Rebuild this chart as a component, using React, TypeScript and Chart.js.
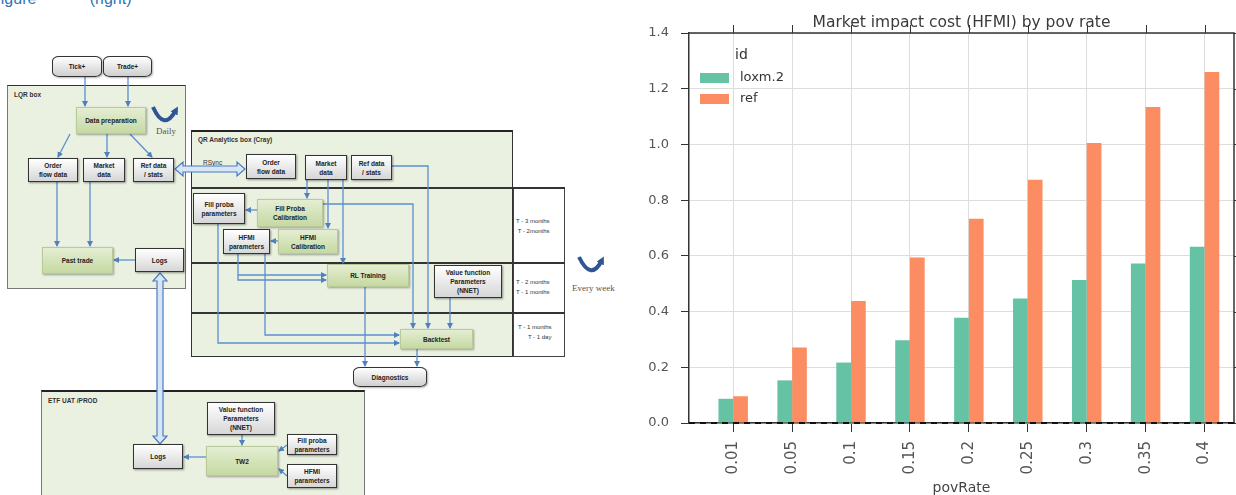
import React, { useEffect, useRef } from 'react';
import { Chart, registerables } from 'chart.js';

Chart.register(...registerables);

// ---------- chart data ----------
const categories = ['0.01', '0.05', '0.1', '0.15', '0.2', '0.25', '0.3', '0.35', '0.4'];
const loxmValues = [0.087, 0.153, 0.217, 0.297, 0.378, 0.447, 0.513, 0.573, 0.633];
const refValues = [0.096, 0.271, 0.438, 0.594, 0.733, 0.873, 1.005, 1.134, 1.26];
const yTickValues = [0, 0.2, 0.4, 0.6, 0.8, 1.0, 1.2, 1.4];
const seriesNames = ['loxm.2', 'ref'];
const seriesColors = ['#66c2a5', '#fc8d62'];
const chartTitle = 'Market impact cost (HFMI) by pov rate';
const xAxisTitle = 'povRate';
const legendTitle = 'id';

const FONT = "'DejaVu Sans', sans-serif";

function BarChart() {
  const ref = useRef<HTMLCanvasElement>(null);
  useEffect(() => {
    const canvas = ref.current;
    if (!canvas) return;
    const overlay = {
      id: 'overlay',
      afterDatasetsDraw(chart: any) {
        const { ctx, chartArea: a, scales } = chart;
        const xs = scales.x;
        const ys = scales.y;
        ctx.save();
        // dashed zero line
        const y0 = ys.getPixelForValue(0);
        ctx.strokeStyle = '#111';
        ctx.lineWidth = 2;
        ctx.setLineDash([6, 5]);
        ctx.beginPath();
        ctx.moveTo(a.left, y0);
        ctx.lineTo(a.right, y0);
        ctx.stroke();
        ctx.setLineDash([]);
        // frame top and right
        ctx.strokeStyle = '#333';
        ctx.lineWidth = 1.5;
        ctx.beginPath();
        ctx.moveTo(a.left, a.top);
        ctx.lineTo(a.right, a.top);
        ctx.lineTo(a.right, a.bottom);
        ctx.stroke();
        // title
        ctx.fillStyle = '#3a3a3a';
        ctx.font = `15.5px ${FONT}`;
        ctx.textAlign = 'center';
        ctx.textBaseline = 'alphabetic';
        ctx.fillText(chartTitle, (a.left + a.right) / 2, 27);
        // top / right ticks
        ctx.strokeStyle = '#333';
        ctx.lineWidth = 1;
        ctx.beginPath();
        categories.forEach((_, i) => {
          const px = Math.round(xs.getPixelForValue(i)) + 0.5;
          ctx.moveTo(px, a.top);
          ctx.lineTo(px, a.top - 8);
        });
        yTickValues.forEach((v) => {
          const py = Math.round(ys.getPixelForValue(v)) + 0.5;
          ctx.moveTo(a.right, py);
          ctx.lineTo(a.right + 8, py);
        });
        ctx.stroke();
        // legend
        ctx.textAlign = 'left';
        ctx.textBaseline = 'middle';
        ctx.fillStyle = '#333';
        ctx.font = `14px ${FONT}`;
        ctx.fillText(legendTitle, a.left + 46, 55);
        ctx.font = `13px ${FONT}`;
        seriesNames.forEach((name, i) => {
          const cy = 78 + i * 21;
          ctx.fillStyle = seriesColors[i];
          ctx.fillRect(a.left + 11, cy - 5, 29, 10);
          ctx.fillStyle = '#333';
          ctx.fillText(name, a.left + 51, cy);
        });
        // x axis title
        ctx.fillStyle = '#444';
        ctx.font = `14px ${FONT}`;
        ctx.textAlign = 'center';
        ctx.fillText(xAxisTitle, (a.left + a.right) / 2, 488);
        ctx.restore();
      },
    };

    const chart = new Chart(canvas, {
      type: 'bar',
      data: {
        datasets: [
          {
            label: seriesNames[0],
            data: loxmValues.map((v, i) => ({ x: i, y: v })),
            backgroundColor: seriesColors[0],
            borderWidth: 0,
            categoryPercentage: 0.5,
            barPercentage: 1.0,
          },
          {
            label: seriesNames[1],
            data: refValues.map((v, i) => ({ x: i, y: v })),
            backgroundColor: seriesColors[1],
            borderWidth: 0,
            categoryPercentage: 0.5,
            barPercentage: 1.0,
          },
        ],
      },
      options: {
        responsive: false,
        animation: false,
        layout: { padding: { top: 33, right: 2, left: 0, bottom: 0 } },
        plugins: {
          legend: { display: false },
          tooltip: { enabled: false },
          title: { display: false },
        },
        scales: {
          x: {
            type: 'linear',
            min: -0.75,
            max: 8.5,
            offset: false,
            afterBuildTicks: (scale: any) => {
              scale.ticks = categories.map((_, i) => ({ value: i }));
            },
            afterFit: (scale: any) => {
              scale.height = 72;
            },
            ticks: {
              autoSkip: false,
              minRotation: 90,
              maxRotation: 90,
              padding: 9,
              color: '#555',
              font: { family: FONT, size: 15 },
              callback: (value: any) => categories[Math.round(value)] ?? '',
            },
            grid: {
              offset: false,
              color: '#dddddd',
              tickColor: '#333',
              tickLength: 9,
              lineWidth: 1,
            },
            border: { display: true, color: '#333', width: 1.5 },
          },
          y: {
            type: 'linear',
            min: 0,
            max: 1.4,
            afterBuildTicks: (scale: any) => {
              scale.ticks = yTickValues.map((v) => ({ value: v }));
            },
            afterFit: (scale: any) => {
              scale.width = 69;
            },
            ticks: {
              padding: 12,
              color: '#555',
              font: { family: FONT, size: 13 },
              callback: (value: any) => Number(value).toFixed(1),
            },
            grid: {
              color: '#dddddd',
              tickColor: '#333',
              tickLength: 8,
              lineWidth: 1,
            },
            border: { display: true, color: '#333', width: 1.5 },
          },
        },
      },
      plugins: [overlay],
    } as any);
    return () => chart.destroy();
  }, []);
  return (
    <canvas
      ref={ref}
      width={616}
      height={495}
      style={{ position: 'absolute', left: 620, top: 0, width: 616, height: 495 }}
    />
  );
}

// ---------- left-hand architecture diagram (decoration) ----------
type BoxDef = { x: number; y: number; w: number; h: number; t: string; k: 'w' | 'g' | 'c' };
const boxes: BoxDef[] = [
  { x: 52, y: 56, w: 50, h: 21, t: 'Tick+', k: 'c' },
  { x: 103, y: 56, w: 49, h: 21, t: 'Trade+', k: 'c' },
  { x: 76, y: 107, w: 70, h: 27, t: 'Data preparation', k: 'g' },
  { x: 28, y: 158, w: 50, h: 24, t: 'Order\nflow data', k: 'w' },
  { x: 83, y: 158, w: 42, h: 24, t: 'Market\ndata', k: 'w' },
  { x: 133, y: 158, w: 41, h: 24, t: 'Ref data\n/ stats', k: 'w' },
  { x: 42, y: 247, w: 71, h: 27, t: 'Past trade', k: 'g' },
  { x: 135, y: 248, w: 49, h: 24, t: 'Logs', k: 'w' },
  { x: 246, y: 154, w: 50, h: 25, t: 'Order\nflow data', k: 'w' },
  { x: 305, y: 155, w: 42, h: 25, t: 'Market\ndata', k: 'w' },
  { x: 351, y: 155, w: 41, h: 25, t: 'Ref data\n/ stats', k: 'w' },
  { x: 193, y: 193, w: 52, h: 31, t: 'Fill proba\nparameters', k: 'w' },
  { x: 257, y: 199, w: 66, h: 28, t: 'Fill Proba\nCalibration', k: 'g' },
  { x: 223, y: 229, w: 47, h: 25, t: 'HFMI\nparameters', k: 'w' },
  { x: 278, y: 229, w: 60, h: 25, t: 'HFMI\nCalibration', k: 'g' },
  { x: 327, y: 264, w: 82, h: 23, t: 'RL Training', k: 'g' },
  { x: 434, y: 265, w: 68, h: 33, t: 'Value function\nParameters\n(NNET)', k: 'w' },
  { x: 400, y: 329, w: 73, h: 20, t: 'Backtest', k: 'g' },
  { x: 353, y: 367, w: 74, h: 20, t: 'Diagnostics', k: 'c' },
  { x: 207, y: 402, w: 68, h: 33, t: 'Value function\nParameters\n(NNET)', k: 'w' },
  { x: 133, y: 444, w: 50, h: 25, t: 'Logs', k: 'w' },
  { x: 206, y: 446, w: 72, h: 30, t: 'TW2', k: 'g' },
  { x: 287, y: 434, w: 50, h: 21, t: 'Fill proba\nparameters', k: 'w' },
  { x: 287, y: 464, w: 50, h: 24, t: 'HFMI\nparameters', k: 'w' },
];

const links: number[][][] = [
  [[85, 77], [85, 106]],
  [[128, 77], [128, 106]],
  [[70, 134], [58, 157]],
  [[107, 134], [107, 157]],
  [[130, 134], [152, 157]],
  [[57, 182], [57, 246]],
  [[90, 182], [90, 246]],
  [[135, 260], [114, 260]],
  [[307, 180], [307, 198]],
  [[328, 180], [328, 228]],
  [[343, 180], [343, 263]],
  [[257, 210], [246, 210]],
  [[278, 241], [271, 241]],
  [[323, 204], [413, 204], [413, 328]],
  [[392, 166], [428, 166], [428, 328]],
  [[450, 298], [450, 328]],
  [[218, 224], [218, 343], [399, 343]],
  [[265, 254], [265, 335], [399, 335]],
  [[238, 254], [238, 280], [326, 280]],
  [[238, 275], [326, 275]],
  [[365, 287], [365, 366]],
  [[417, 349], [417, 366]],
  [[242, 435], [242, 445]],
  [[206, 457], [184, 457]],
  [[287, 445], [279, 451]],
  [[287, 476], [279, 469]],
];

const tinyFont = "'Liberation Sans', Arial, sans-serif";

function DiagramBox({ b }: { b: BoxDef }) {
  const base: React.CSSProperties = {
    position: 'absolute',
    left: b.x,
    top: b.y,
    width: b.w,
    height: b.h,
    boxSizing: 'border-box',
    display: 'flex',
    alignItems: 'center',
    justifyContent: 'center',
    textAlign: 'center',
    whiteSpace: 'pre-line',
    fontFamily: tinyFont,
    fontSize: 6.5,
    lineHeight: '9px',
    fontWeight: 'bold',
    color: '#222',
  };
  if (b.k === 'g') {
    Object.assign(base, {
      background: 'linear-gradient(#e4eed3, #c5d9a2)',
      border: '1px solid #b9c99a',
      boxShadow: '1px 1px 2px rgba(0,0,0,0.35)',
    });
  } else if (b.k === 'w') {
    Object.assign(base, {
      background: 'linear-gradient(#ffffff, #d6d6d6)',
      border: '1.5px solid #333',
      boxShadow: '1px 1px 2px rgba(0,0,0,0.4)',
    });
  } else {
    Object.assign(base, {
      background: 'linear-gradient(#ffffff, #cfcfcf)',
      border: '1.5px solid #333',
      borderRadius: '7px / 5px',
      boxShadow: '1px 1px 2px rgba(0,0,0,0.3)',
    });
  }
  return <div style={base}>{b.t}</div>;
}

function label(x: number, y: number, t: string, extra: React.CSSProperties = {}) {
  return (
    <div
      key={`${x}-${y}-${t}`}
      style={{
        position: 'absolute',
        left: x,
        top: y,
        fontFamily: tinyFont,
        fontSize: 6.5,
        lineHeight: '10px',
        fontWeight: 'bold',
        color: '#333',
        whiteSpace: 'pre',
        ...extra,
      }}
    >
      {t}
    </div>
  );
}

function Diagram() {
  const panel = (x: number, y: number, w: number, h: number, extra: React.CSSProperties = {}) => ({
    position: 'absolute' as const,
    left: x,
    top: y,
    width: w,
    height: h,
    boxSizing: 'border-box' as const,
    background: '#ebf1e1',
    ...extra,
  });
  const hline = (x: number, y: number, w: number, c = '#333', t = 1.5) => (
    <div key={`h${x}-${y}`} style={{ position: 'absolute', left: x, top: y, width: w, height: t, background: c }} />
  );
  return (
    <div style={{ position: 'absolute', left: 0, top: 0, width: 620, height: 495, overflow: 'hidden' }}>
      <div
        style={{
          position: 'absolute',
          left: -9,
          top: -9,
          fontFamily: tinyFont,
          fontSize: 16,
          lineHeight: '16px',
          color: '#2e75b6',
          whiteSpace: 'pre',
        }}
      >
        {'Figure            (right)'}
      </div>
      {/* panels */}
      <div style={panel(7, 85, 179, 204, { border: '1px solid #777', borderTop: '1.5px solid #333' })} />
      <div style={panel(191, 130, 322, 227, { border: '1.5px solid #333', borderTop: '2px solid #222' })} />
      <div
        style={{
          position: 'absolute',
          left: 513,
          top: 188,
          width: 52,
          height: 169,
          boxSizing: 'border-box',
          background: '#fff',
          border: '1.5px solid #444',
        }}
      />
      {hline(191, 187, 374)}
      {hline(191, 262, 374)}
      {hline(191, 312, 374)}
      <div style={panel(41, 390, 324, 120, { border: '1px solid #777', borderTop: '2px solid #222' })} />
      {label(14, 90, 'LQR box')}
      {label(198, 135, 'QR Analytics box (Cray)')}
      {label(203, 158, 'RSync', { fontWeight: 'normal' })}
      {label(48, 396, 'ETF UAT /PROD')}
      {label(516, 216, 'T - 3 months\nT - 2months', { textAlign: 'right', fontWeight: 'normal', fontSize: 6 })}
      {label(516, 277, 'T - 2 months\nT - 1 months', { fontWeight: 'normal', fontSize: 6 })}
      {label(518, 322, 'T - 1 months\n      T - 1 day', { fontWeight: 'normal', fontSize: 6 })}
      {label(156, 126, 'Daily', { fontFamily: "'Liberation Serif', serif", fontWeight: 'normal', fontSize: 9, color: '#555' })}
      {label(572, 283, 'Every week', { fontFamily: "'Liberation Serif', serif", fontWeight: 'normal', fontSize: 9, color: '#555' })}
      <svg width={620} height={495} style={{ position: 'absolute', left: 0, top: 0 }}>
        <defs>
          <marker id="ah" markerWidth="6" markerHeight="6" refX="5" refY="3" orient="auto" markerUnits="userSpaceOnUse">
            <path d="M0,0 L6,3 L0,6 z" fill="#4f81bd" />
          </marker>
          <marker id="ah2" markerWidth="8" markerHeight="8" refX="4" refY="4" orient="auto" markerUnits="userSpaceOnUse">
            <path d="M0,0 L8,4 L0,8 z" fill="#2f5597" />
          </marker>
        </defs>
        {links.map((pts, i) => (
          <polyline
            key={i}
            points={pts.map((p) => p.join(',')).join(' ')}
            fill="none"
            stroke="#5b8fd0"
            strokeWidth={1.3}
            markerEnd="url(#ah)"
          />
        ))}
        {/* thick double arrows */}
        <polygon
          points="175,169 183,162 183,166 237,166 237,162 245,169 237,176 237,172 183,172 183,176"
          fill="#d7e5f6"
          stroke="#4a7cc0"
          strokeWidth={1.2}
        />
        <polygon
          points="160,273 167,281 163,281 163,436 167,436 160,444 153,436 157,436 157,281 153,281"
          fill="#d7e5f6"
          stroke="#4a7cc0"
          strokeWidth={1.2}
        />
        {/* recurrence arcs */}
        <path d="M153 107 Q 164 132 176 110" fill="none" stroke="#2f5597" strokeWidth={4} markerEnd="url(#ah2)" />
        <path d="M579 257 Q 591 282 602 260" fill="none" stroke="#2f5597" strokeWidth={4} markerEnd="url(#ah2)" />
      </svg>
      {boxes.map((b, i) => (
        <DiagramBox key={i} b={b} />
      ))}
    </div>
  );
}

export default function App() {
  return (
    <div
      style={{
        position: 'absolute',
        left: 0,
        top: 0,
        width: 1236,
        height: 495,
        overflow: 'hidden',
        background: '#fff',
      }}
    >
      <Diagram />
      <BarChart />
    </div>
  );
}
